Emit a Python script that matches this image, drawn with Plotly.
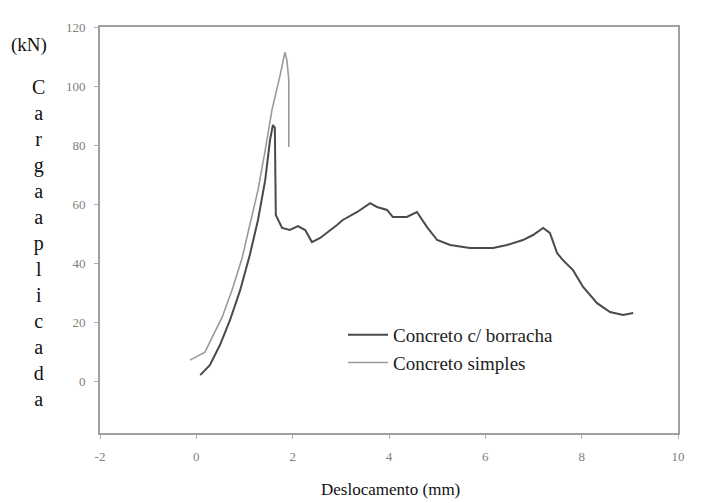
import plotly.graph_objects as go

# Concreto c/ borracha (dark line)
borracha_x = [0.08, 0.28, 0.49, 0.70, 0.91, 1.11, 1.28, 1.43, 1.53, 1.59, 1.63, 1.65, 1.78, 1.94,
              2.11, 2.26, 2.40, 2.57, 2.92, 3.04, 3.34, 3.61, 3.75, 3.96, 4.08, 4.37, 4.58, 4.79,
              5.00, 5.27, 5.68, 6.16, 6.45, 6.78, 6.99, 7.20, 7.34, 7.49, 7.61, 7.82, 8.03, 8.32,
              8.59, 8.86, 9.07]
borracha_y = [2.0, 5.4, 12.2, 20.7, 30.8, 42.7, 54.6, 68.1, 81.7, 86.8, 85.8, 56.3, 51.9, 51.2,
              52.5, 51.2, 47.1, 48.5, 52.9, 54.6, 57.3, 60.3, 59.0, 58.0, 55.6, 55.6, 57.3, 52.2,
              47.8, 46.1, 45.1, 45.1, 46.1, 47.8, 49.5, 51.9, 50.2, 43.4, 41.0, 37.6, 31.9, 26.4,
              23.4, 22.4, 23.1]

# Concreto simples (light line)
simples_x = [-0.13, 0.18, 0.33, 0.53, 0.74, 0.95, 1.11, 1.28, 1.43, 1.57, 1.74, 1.84, 1.88, 1.92, 1.92]
simples_y = [7.1, 9.8, 14.9, 21.4, 30.8, 41.7, 52.9, 64.7, 78.3, 91.9, 103.7, 111.5, 108.8, 102.0, 79.3]

x_ticks = [-2, 0, 2, 4, 6, 8, 10]
y_ticks = [0, 20, 40, 60, 80, 100, 120]
y_letters = list("Cargaaplicada")

fig = go.Figure()
fig.add_trace(go.Scatter(x=borracha_x, y=borracha_y, mode="lines", name="Concreto c/ borracha",
                         line=dict(color="#4a4a4a", width=2)))
fig.add_trace(go.Scatter(x=simples_x, y=simples_y, mode="lines", name="Concreto simples",
                         line=dict(color="#9a9a9a", width=1.6)))

axis_common = dict(showline=True, mirror=True, linecolor="#a0a0a0", linewidth=2,
                   showgrid=False, zeroline=False, ticks="outside", ticklen=4,
                   tickcolor="#b0b0b0", ticklabelstandoff=6,
                   tickfont=dict(family="Liberation Serif", size=13, color="#808080"))

fig.update_xaxes(range=[-2, 10], tickvals=x_ticks, ticktext=[str(v) for v in x_ticks], **axis_common)
fig.update_yaxes(range=[-17.6, 120], tickvals=y_ticks, ticktext=[str(v) for v in y_ticks], **axis_common)

# plot area in window pixels: x 100..678, y 27..433
def px_x(px):
    return (px - 100) / 578

def px_y(py):
    return (433 - py) / 406

annotations = []
annotations.append(dict(text="Deslocamento (mm)", xref="paper", yref="paper",
                        x=px_x(390), y=px_y(490), xanchor="center", yanchor="middle",
                        showarrow=False,
                        font=dict(family="Liberation Serif", size=17, color="#111111")))
annotations.append(dict(text="(kN)", xref="paper", yref="paper",
                        x=px_x(29), y=px_y(45), xanchor="center", yanchor="middle",
                        showarrow=False,
                        font=dict(family="Liberation Serif", size=19, color="#111111")))
annotations.append(dict(text="<br>".join(y_letters), xref="paper", yref="paper",
                        x=px_x(38), y=px_y(243), xanchor="center", yanchor="middle",
                        showarrow=False, align="center",
                        font=dict(family="Liberation Serif", size=20, color="#111111")))

# the page body has an 8px margin, so the figure is offset by 8px
fig.update_layout(
    width=695, height=495,
    margin=dict(l=92, r=25, t=19, b=70),
    paper_bgcolor="white", plot_bgcolor="white",
    showlegend=True,
    legend=dict(x=px_x(343), y=px_y(316), xanchor="left", yanchor="top",
                bgcolor="rgba(255,255,255,0)", borderwidth=0,
                font=dict(family="Liberation Serif", size=19, color="#222222"),
                tracegroupgap=0, itemwidth=40),
    annotations=annotations,
)

fig.write_html("out.html")
